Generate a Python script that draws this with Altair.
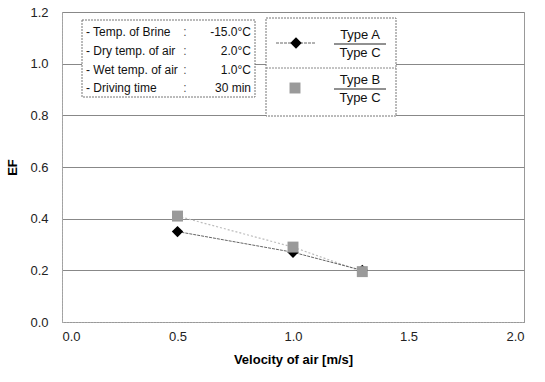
import altair as alt
import pandas as pd

# data
velocity = [0.5, 1.0, 1.3]
ef_type_a = [0.35, 0.27, 0.20]
ef_type_b = [0.41, 0.29, 0.195]

cond_labels = ["- Temp. of  Brine", "- Dry temp. of air", "- Wet temp. of air", "- Driving time"]
cond_values = ["-15.0\u00b0C", "2.0\u00b0C", "1.0\u00b0C", "30 min"]
legend_texts = ["Type A", "Type C", "Type B", "Type C"]

FONT = "Liberation Sans"
W, H = 462, 310

df_a = pd.DataFrame({"v": velocity, "ef": ef_type_a})
df_b = pd.DataFrame({"v": velocity, "ef": ef_type_b})

xs = alt.Scale(domain=[0, 2.0], nice=False)
ys = alt.Scale(domain=[0, 1.2], nice=False)
pix = alt.Scale(domain=[0, H], range=[0, H])

xax = alt.Axis(values=[0, 0.5, 1.0, 1.5, 2.0], format=".1f", grid=False, title="Velocity of air [m/s]",
               titleFont=FONT, titleFontSize=13, titleFontWeight="bold", titlePadding=10,
               labelFont=FONT, labelFontSize=13, labelColor="#222", labelPadding=8,
               tickSize=0, domainColor="#aaa", domainDash=[2, 1])
yax = alt.Axis(values=[0, 0.2, 0.4, 0.6, 0.8, 1.0, 1.2], format=".1f", grid=True, gridColor="#888",
               title="EF", titleFont=FONT, titleFontSize=13, titleFontWeight="bold", titlePadding=10,
               labelFont=FONT, labelFontSize=13, labelColor="#222", labelPadding=14,
               tickSize=0, domainColor="#aaa", domainDash=[2, 1])

base_b = alt.Chart(df_b)
line_b = base_b.mark_line(color="#bdbdbd", strokeWidth=1.2, strokeDash=[2, 2]).encode(
    x=alt.X("v:Q", scale=xs, axis=xax), y=alt.Y("ef:Q", scale=ys, axis=yax))
pts_b = base_b.mark_point(shape="square", filled=True, color="#9a9a9a", size=120, opacity=1).encode(
    x=alt.X("v:Q", scale=xs), y=alt.Y("ef:Q", scale=ys))

base_a = alt.Chart(df_a)
line_a = base_a.mark_line(color="#666", strokeWidth=1, strokeDash=[3, 1]).encode(
    x=alt.X("v:Q", scale=xs), y=alt.Y("ef:Q", scale=ys))
pts_a = base_a.mark_point(shape="diamond", filled=True, color="#000", size=130, opacity=1).encode(
    x=alt.X("v:Q", scale=xs), y=alt.Y("ef:Q", scale=ys))

data_layer = alt.layer(line_b, line_a, pts_a, pts_b)

one = pd.DataFrame({"k": [0]})

# conditions box
box1 = alt.Chart(one).mark_rect(fill="white", stroke="#777", strokeDash=[2, 1], strokeWidth=1).encode(
    x=alt.value(20), x2=alt.value(193), y=alt.value(8), y2=alt.value(85))
cond_df = pd.DataFrame({"label": cond_labels, "value": cond_values, "yy": [20, 39, 58, 76]})
cy = alt.Y("yy:Q", scale=pix, axis=None)
txt_lab = alt.Chart(cond_df).mark_text(align="left", baseline="middle", font=FONT, fontSize=12, color="#111").encode(
    x=alt.value(24), y=cy, text="label:N")
txt_col = alt.Chart(cond_df).mark_text(align="center", baseline="middle", font=FONT, fontSize=12, color="#555").encode(
    x=alt.value(123), y=cy, text=alt.value(":"))
txt_val = alt.Chart(cond_df).mark_text(align="right", baseline="middle", font=FONT, fontSize=12, color="#111").encode(
    x=alt.value(189), y=cy, text="value:N")

# legend box
box2 = alt.Chart(one).mark_rect(fill="white", stroke="#777", strokeDash=[2, 1], strokeWidth=1).encode(
    x=alt.value(204), x2=alt.value(334), y=alt.value(6), y2=alt.value(104))
div2 = alt.Chart(one).mark_rule(color="#888", strokeDash=[2, 1]).encode(
    x=alt.value(204), x2=alt.value(334), y=alt.value(56))
leg_line = alt.Chart(one).mark_rule(color="#666", strokeDash=[3, 1]).encode(
    x=alt.value(214), x2=alt.value(254), y=alt.value(31))
leg_dia = alt.Chart(one).mark_point(shape="diamond", filled=True, color="#000", size=130, opacity=1).encode(
    x=alt.value(234), y=alt.value(31))
leg_sq = alt.Chart(one).mark_point(shape="square", filled=True, color="#9a9a9a", size=120, opacity=1).encode(
    x=alt.value(233), y=alt.value(76))
leg_df = pd.DataFrame({"t": legend_texts, "yy": [23, 41, 68, 86]})
leg_txt = alt.Chart(leg_df).mark_text(align="center", baseline="middle", font=FONT, fontSize=13, color="#111").encode(
    x=alt.value(298), y=alt.Y("yy:Q", scale=pix, axis=None), text="t:N")
frac1 = alt.Chart(one).mark_rule(color="#222").encode(x=alt.value(272), x2=alt.value(324), y=alt.value(32))
frac2 = alt.Chart(one).mark_rule(color="#222").encode(x=alt.value(272), x2=alt.value(324), y=alt.value(77))

overlay = alt.layer(box1, txt_lab, txt_col, txt_val, box2, div2, leg_line, leg_dia, leg_sq, leg_txt, frac1, frac2)

chart = alt.layer(data_layer, overlay).resolve_scale(y="independent").properties(
    width=W, height=H,
    autosize=alt.AutoSizeParams(type="none"),
    padding={"left": 62, "top": 12, "right": 21, "bottom": 60},
    background="white",
).configure_view(stroke="#999", strokeWidth=1)

chart.save("out.html", embed_options={"renderer": "svg", "actions": False})
